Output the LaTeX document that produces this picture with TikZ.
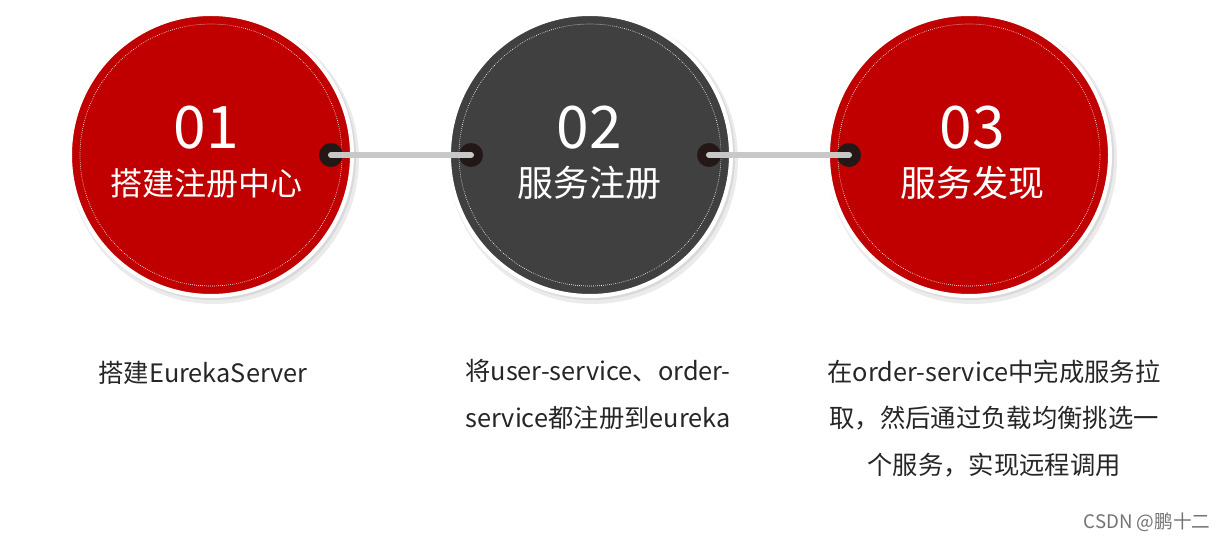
\documentclass[tikz,border=0pt]{standalone}
\usepackage{fontspec}
\setmainfont{Noto Sans CJK SC}
\definecolor{cred}{HTML}{C00000}
\definecolor{cgray}{HTML}{404040}
\definecolor{cbar}{HTML}{C8C8C8}
\definecolor{cdot}{HTML}{231815}
\begin{document}
\begin{tikzpicture}[x=0.75pt,y=-0.75pt,
  ring/.style={circle,draw=white,line width=3pt,minimum size=282*0.75pt,inner sep=0pt},
  dotc/.style={circle,fill=cdot,minimum size=24*0.75pt,inner sep=0pt},
  num/.style={text=white,font=\fontsize{44}{44}\selectfont},
  ttl/.style={text=white,font=\fontsize{24}{24}\selectfont},
  ttlb/.style={text=white,font=\fontsize{27}{27}\selectfont},
  desc/.style={align=center,font=\fontsize{19}{35}\selectfont,text=black!85}]
\useasboundingbox (0,0) rectangle (1227,541);
\foreach \cx/\cc/\nm in {211/cred/c1,590/cgray/c2,969/cred/c3}{
  \fill[black,opacity=0.08] (\cx+3,159) circle (145);
  \fill[black,opacity=0.08] (\cx+2,157) circle (143);
  \node[ring,fill=\cc] (\nm) at (\cx,155) {};
  \draw[white,densely dotted,line width=0.5pt] (\cx,155) circle (131);
}
\node[dotc] (d1) at (331,155) {};
\node[dotc] (d2) at (471,155) {};
\node[dotc] (d3) at (709,155) {};
\node[dotc] (d4) at (849,155) {};
\draw[cbar,line width=4.5pt,line cap=round] (d1.center) -- (d2.center);
\draw[cbar,line width=4.5pt,line cap=round] (d3.center) -- (d4.center);
\node[num] (n1) at (206,128) {01};
\node[ttl] (t1) at (206,183) {搭建注册中心};
\node[num] (n2) at (589,128) {02};
\node[ttlb] (t2) at (589,183) {服务注册};
\node[num] (n3) at (972,128) {03};
\node[ttlb] (t3) at (972,183) {服务发现};
\node[desc] (b1) at (203,373) {搭建EurekaServer};
\node[desc,anchor=north] (b2) at (598,355) {将user-service、order-\\service都注册到eureka};
\node[desc,anchor=north] (b3) at (994,355) {在order-service中完成服务拉\\取，然后通过负载均衡挑选一\\个服务，实现远程调用};
\node[text=black!55,font=\fontsize{14}{14}\selectfont] (w) at (1147,522) {CSDN @鹏十二};
\end{tikzpicture}
\end{document}
